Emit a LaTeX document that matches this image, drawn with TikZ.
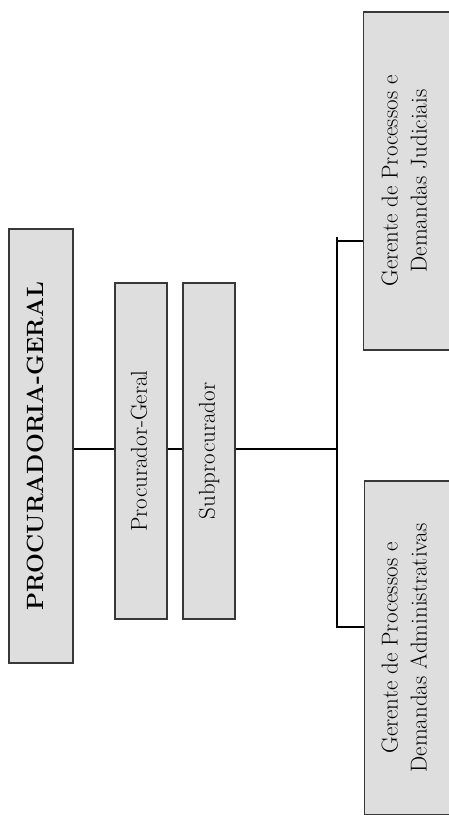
\documentclass[tikz,border=0pt]{standalone}
\usepackage{fontspec}
\usepackage{graphicx}
\tikzset{
  orgbox/.style={draw=black!78, line width=1.2pt, fill=black!13, inner sep=0pt,
    font=\fontsize{23}{29}\selectfont},
  link/.style={draw=black, line width=1.3pt}
}
\begin{document}
\begin{tikzpicture}[x=1pt,y=-1pt]
\useasboundingbox (0,0) rectangle (448,815);
\node[orgbox, minimum width=64pt, minimum height=434pt] (pg) at (41,446)
  {\rotatebox{90}{\fontsize{23.5}{29}\selectfont\bfseries PROCURADORIA-GERAL}\hspace*{12pt}};
\node[orgbox, minimum width=52pt, minimum height=336pt] (prg) at (141,451)
  {\rotatebox{90}{Procurador-Geral}\hspace*{4pt}};
\node[orgbox, minimum width=52pt, minimum height=336pt] (sub) at (209,451)
  {\rotatebox{90}{Subprocurador}};
\node[orgbox, anchor=west, minimum height=338pt] (jud) at (363,181)
  {\hspace*{13.7pt}\rotatebox{90}{\begin{tabular}{@{}c@{}}Gerente de Processos e\\Demandas Judiciais\end{tabular}}\hspace*{35pt}};
\node[orgbox, anchor=west, minimum height=334pt] (adm) at (364,648)
  {\hspace*{12.7pt}\rotatebox{90}{\begin{tabular}{@{}c@{}}Gerente de Processos e\\Demandas Administrativas\end{tabular}}\hspace*{35pt}};
\coordinate (trunk) at (0,449);
\coordinate (bus) at (337,449);
\coordinate (bustop) at (337,237);
\coordinate (busbot) at (337,627);
\coordinate (jt) at (337,241);
\draw[link] (pg.east |- trunk) -- (prg.west |- trunk);
\draw[link] (prg.east |- trunk) -- (sub.west |- trunk);
\draw[link] (sub.east |- trunk) -- (bus);
\draw[link] (bustop) -- (busbot);
\draw[link] (jt) -- (jud.west |- jt);
\draw[link] ([xshift=-1pt]busbot) -- (adm.west |- busbot);
\end{tikzpicture}
\end{document}
